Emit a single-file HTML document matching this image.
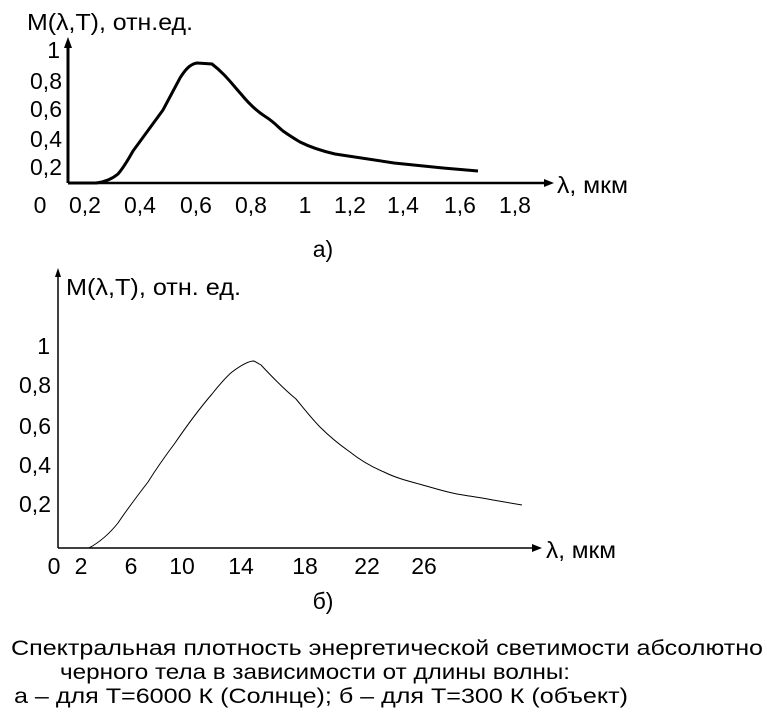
<!DOCTYPE html><html><head><meta charset="utf-8"><style>body{margin:0;background:#fff}</style></head><body>
<svg width="767" height="721" xmlns="http://www.w3.org/2000/svg" font-family="Liberation Sans, Arial, sans-serif" fill="#000">
<g font-size="23">
<text x="27" y="30" textLength="166" lengthAdjust="spacingAndGlyphs">M(λ,T), отн.ед.</text>
<line x1="68" y1="183" x2="68" y2="44" stroke="#000" stroke-width="3"/>
<polygon points="68,37 64,48 72,48"/>
<line x1="68" y1="183" x2="546" y2="183" stroke="#000" stroke-width="2.5"/>
<polygon points="554,183 544,179 544,187"/>
<g text-anchor="end"><text x="60" y="58">1</text><text x="62" y="89">0,8</text><text x="62" y="117">0,6</text><text x="62" y="147">0,4</text><text x="62" y="175">0,2</text></g>
<g text-anchor="middle"><text x="40" y="213">0</text><text x="85" y="213">0,2</text><text x="140" y="213">0,4</text><text x="196" y="213">0,6</text><text x="251" y="213">0,8</text><text x="305" y="213">1</text><text x="350" y="213">1,2</text><text x="403" y="213">1,4</text><text x="460" y="213">1,6</text><text x="515" y="213">1,8</text><text x="323" y="257">а)</text></g>
<text x="557" y="193" textLength="71" lengthAdjust="spacingAndGlyphs">λ, мкм</text>
<path d="M68,183 L96,183 C105,182 112,179 118,174 C124,167 128,160 133,151 L163,110 L180,78 C185,70 190,64 197,63 L212,64 C225,74 232,84 241,94 C250,105 258,112 266,117 C274,122 278,127 283,131 C290,136 295,139 300,142 C312,148 322,151 335,154 L394,163 L443,168 L478,171" fill="none" stroke="#000" stroke-width="3"/>
</g>
<g font-size="23">
<text x="66" y="295" textLength="175" lengthAdjust="spacingAndGlyphs">M(λ,T), отн. ед.</text>
<line x1="58" y1="548" x2="58" y2="274" stroke="#000" stroke-width="1.5"/>
<polygon points="58,268 55,277 61,277"/>
<line x1="58" y1="548" x2="535" y2="548" stroke="#000" stroke-width="1.5"/>
<polygon points="542,548 532,544 532,552"/>
<g text-anchor="end"><text x="50" y="354">1</text><text x="51" y="393">0,8</text><text x="51" y="434">0,6</text><text x="51" y="473">0,4</text><text x="51" y="512">0,2</text></g>
<g text-anchor="middle"><text x="54" y="574">0</text><text x="81" y="574">2</text><text x="131" y="574">6</text><text x="182" y="574">10</text><text x="241" y="574">14</text><text x="305" y="574">18</text><text x="367" y="574">22</text><text x="424" y="574">26</text><text x="323" y="609">б)</text></g>
<text x="546" y="558" textLength="70" lengthAdjust="spacingAndGlyphs">λ, мкм</text>
<path d="M58,548 L89,548 C100,542 110,533 118,523 C128,508 138,495 148,482 C158,466 166,455 175,443 C188,424 200,408 212,394 C220,384 226,377 232,372 C240,366 248,361 254,361 L261,365 C275,380 285,390 296,399 C305,410 312,419 320,427 C330,437 340,445 350,452 C360,460 372,467 384,472 C396,478 408,481 419,484 C434,488 448,493 463,495 C475,497 484,498 493,500 L522,505" fill="none" stroke="#000" stroke-width="1"/>
</g>
<g font-size="21">
<text x="11" y="655" textLength="752" lengthAdjust="spacingAndGlyphs">Спектральная плотность энергетической светимости абсолютно</text>
<text x="60" y="679" textLength="510" lengthAdjust="spacingAndGlyphs">черного тела в зависимости от длины волны:</text>
<text x="14" y="703" textLength="614" lengthAdjust="spacingAndGlyphs">а – для T=6000 К (Солнце); б – для T=300 К (объект)</text>
</g>
</svg>
</body></html>
